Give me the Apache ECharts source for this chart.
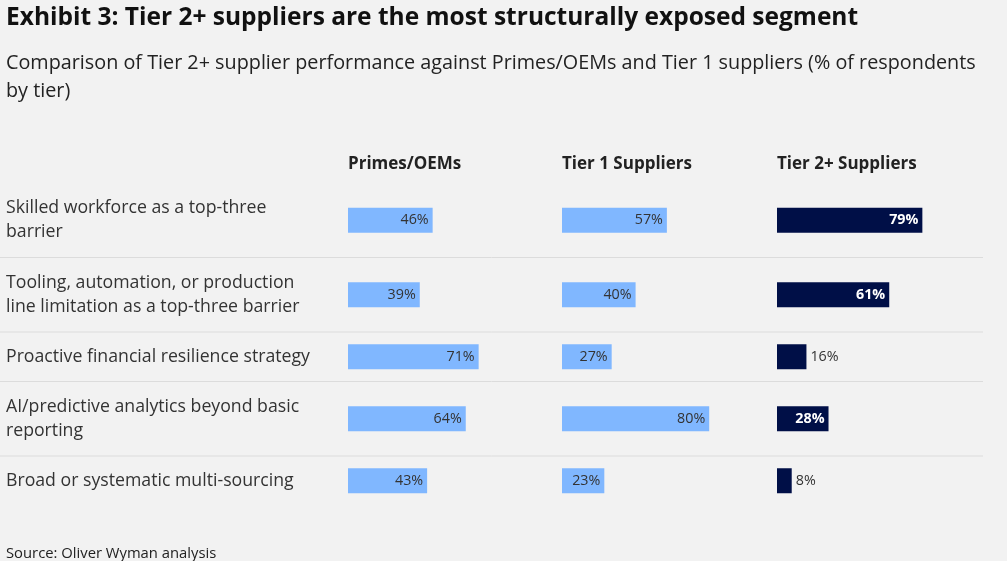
<!DOCTYPE html>
<html><head><meta charset="utf-8">
<script src="https://cdn.jsdelivr.net/npm/echarts@6/dist/echarts.min.js"></script>
<style>html,body{margin:0;padding:0;background:#f2f2f2}#c{width:1007px;height:561px}</style>
</head><body><div id="c"></div>
<script>
const categories = [
  'Skilled workforce as a top-three\nbarrier',
  'Tooling, automation, or production\nline limitation as a top-three barrier',
  'Proactive financial resilience strategy',
  'AI/predictive analytics beyond basic\nreporting',
  'Broad or systematic multi-sourcing'
];
const groups = ['Primes/OEMs', 'Tier 1 Suppliers', 'Tier 2+ Suppliers'];
const primes = [46, 39, 71, 64, 43];
const tier1 = [57, 40, 27, 80, 23];
const tier2 = [79, 61, 16, 28, 8];
const titleText = 'Exhibit 3: Tier 2+ suppliers are the most structurally exposed segment';
const subtitleText = 'Comparison of Tier 2+ supplier performance against Primes/OEMs and Tier 1 suppliers (% of respondents\nby tier)';
const sourceText = 'Source: Oliver Wyman analysis';

const values = [primes, tier1, tier2];
const FONT = 'Open Sans';
const colLeft = [348, 562, 777];
const colWidth = 184;
const barColors = ['#80b7ff', '#80b7ff', '#000f47'];
const labelColors = ['#333333', '#333333', '#ffffff'];
const labelWeights = ['normal', 'normal', 'bold'];

// row layout derived from label line counts
const rowTops = [];
const rowHeights = [];
let y = 183;
categories.forEach(c => {
  const h = c.split('\n').length > 1 ? 74.5 : 49.5;
  rowTops.push(y); rowHeights.push(h); y += h;
});

const grids = [], xAxes = [], yAxes = [], series = [];
categories.forEach((cat, r) => {
  groups.forEach((g, c) => {
    const idx = grids.length;
    grids.push({ left: colLeft[c], width: colWidth, top: rowTops[r], height: rowHeights[r], containLabel: false });
    xAxes.push({ gridIndex: idx, type: 'value', min: 0, max: 100, show: false });
    yAxes.push({
      gridIndex: idx, type: 'category', data: [cat],
      axisLine: { show: false }, axisTick: { show: false }, splitLine: { show: false },
      axisLabel: c === 0 ? {
        show: true, align: 'left', margin: colLeft[0] - 6, color: '#333333',
        fontSize: 17.7, lineHeight: 24, fontFamily: FONT, padding: [4, 0, 0, 0]
      } : { show: false }
    });
    const v = values[c][r];
    const outside = v < 20;
    series.push({
      type: 'bar', xAxisIndex: idx, yAxisIndex: idx, barWidth: 25,
      data: [v], itemStyle: { color: barColors[c] },
      label: {
        show: true, formatter: '{c}%', fontFamily: FONT, fontSize: 14.3,
        position: outside ? 'right' : 'insideRight',
        distance: 4,
        color: outside ? '#333333' : labelColors[c],
        fontWeight: outside ? 'normal' : labelWeights[c]
      },
      silent: true, animation: false
    });
  });
});

const graphics = [];
for (let r = 1; r < categories.length; r++) {
  graphics.push({
    type: 'line', shape: { x1: 0, y1: rowTops[r], x2: 983, y2: rowTops[r] },
    style: { stroke: '#dcdcdc', lineWidth: 1 }, silent: true
  });
}

const titles = [
  { text: titleText, left: 6, top: 6, textStyle: { fontFamily: FONT, fontSize: 24.5, fontWeight: 'bold', color: '#111111' } },
  { text: subtitleText, left: 6, top: 49, textStyle: { fontFamily: FONT, fontSize: 19.8, fontWeight: 'normal', color: '#222222', lineHeight: 28 } },
  { text: sourceText, left: 6, top: 546, textStyle: { fontFamily: FONT, fontSize: 14.8, fontWeight: 'normal', color: '#222222' } }
];
groups.forEach((g, c) => {
  titles.push({ text: g, left: colLeft[c], top: 156, textStyle: { fontFamily: FONT, fontSize: 17, fontWeight: 'bold', color: '#222222' } });
});

const chart = echarts.init(document.getElementById('c'));
chart.setOption({
  backgroundColor: '#f2f2f2',
  animation: false,
  title: titles.map(t => Object.assign({ padding: 0 }, t)),
  grid: grids, xAxis: xAxes, yAxis: yAxes, series: series,
  graphic: graphics
});
</script></body></html>
